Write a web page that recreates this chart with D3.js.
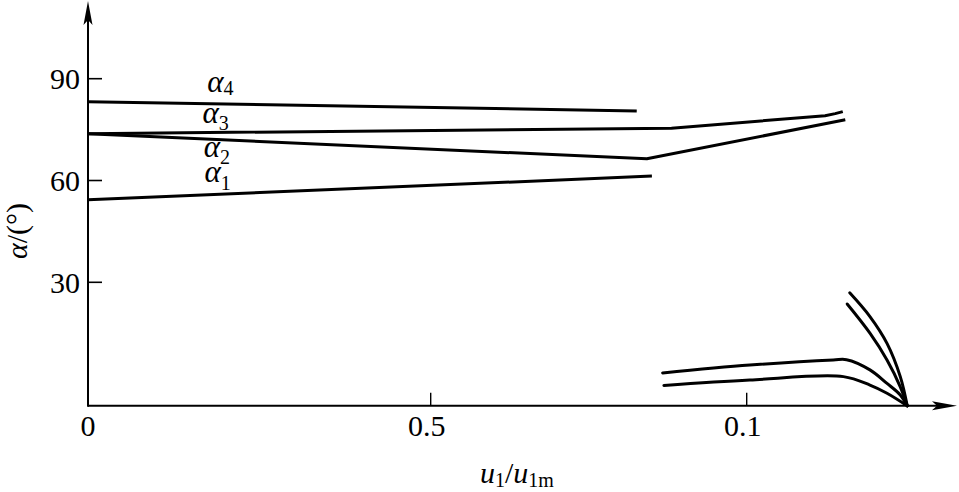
<!DOCTYPE html>
<html>
<head>
<meta charset="utf-8">
<script src="https://cdn.jsdelivr.net/npm/d3@7"></script>
<style>
  html, body { margin: 0; padding: 0; background: #fff; }
  svg { display: block; font-family: "Liberation Serif", "Times New Roman", serif; }
</style>
</head>
<body>
<svg id="chart" width="959" height="492"></svg>
<script>
// ---- data ----
const xTickValues = [0, 0.5, 1];
const xTickLabels = ["0", "0.5", "0.1"];
const yTickValues = [30, 60, 90];
const yTickLabels = ["30", "60", "90"];

const alpha4 = [[0, 83.2], [0.826, 80.5]];
const alpha3 = [[0, 73.8], [0.881, 75.4], [1.124, 79.1], [1.14, 79.7], [1.152, 80.3]];
const alpha2 = [[0, 73.8], [0.842, 66.4], [1.156, 77.9]];
const alpha1 = [[0, 54.3], [0.850, 61.3]];

const lowUpper = [[0.867, 3.3], [1.005, 5.6], [1.137, 7.1], [1.158, 7.2], [1.195, 4.2], [1.222, 0.2], [1.243, -3.2], [1.254, -6.4]];
const lowLower = [[0.869, -0.4], [1.005, 1.2], [1.153, 2.2], [1.195, -0.3], [1.222, -2.7], [1.254, -6.4]];
const steepOuter = [[1.163, 26.9], [1.195, 19.9], [1.222, 12.0], [1.243, 2.2], [1.254, -6.4]];
const steepInner = [[1.159, 23.6], [1.195, 15.0], [1.222, 7.1], [1.243, -0.8], [1.254, -6.4]];

const seriesNames = ["4", "3", "2", "1"];
const labelAnchors = [[0.174, 86.1], [0.167, 76.8], [0.169, 66.8], [0.170, 59.6]];
const labelSubShift = [3, 7, 7, 8];

// ---- scales ----
const svg = d3.select("#chart");
const x = d3.scaleLinear().domain([0, 0.5, 1]).range([88, 430.7, 746.7]);
const y = d3.scaleLinear().domain([30, 90]).range([282.3, 78.7]);
const xMin = 0, xMax = x.invert(957);
const yBase = y.invert(405.7), yTop = y.invert(1);

const ink = "#000";

// ---- axes ----
const gAx = svg.append("g");
gAx.append("line").attr("x1", x(xMin)).attr("x2", x(xMax) - 12)
  .attr("y1", y(yBase)).attr("y2", y(yBase))
  .attr("stroke", ink).attr("stroke-width", 2);
gAx.append("line").attr("x1", x(xMin)).attr("x2", x(xMin))
  .attr("y1", y(yBase) + 1).attr("y2", y(yTop) + 12)
  .attr("stroke", ink).attr("stroke-width", 2);

// arrowheads
const xa = x(xMax), ya = y(yBase);
gAx.append("path")
  .attr("d", `M${xa},${ya} L${xa - 25},${ya - 4.5} L${xa - 20},${ya} L${xa - 25},${ya + 4.5} Z`)
  .attr("fill", ink);
const xb = x(xMin), yb = y(yTop);
gAx.append("path")
  .attr("d", `M${xb},${yb} L${xb - 4.5},${yb + 24} L${xb},${yb + 19} L${xb + 4.5},${yb + 24} Z`)
  .attr("fill", ink);

// y ticks
yTickValues.forEach((v, i) => {
  gAx.append("line").attr("x1", x(0)).attr("x2", x(0) + 14)
    .attr("y1", y(v)).attr("y2", y(v)).attr("stroke", ink).attr("stroke-width", 1.6);
  gAx.append("text").attr("x", 80).attr("y", y(v) + 10.5)
    .attr("text-anchor", "end").attr("font-size", 30).attr("fill", ink)
    .text(yTickLabels[i]);
});

// x ticks
xTickValues.forEach((v, i) => {
  if (v !== 0) {
    gAx.append("line").attr("x1", x(v)).attr("x2", x(v))
      .attr("y1", y(yBase)).attr("y2", y(yBase) - 13)
      .attr("stroke", ink).attr("stroke-width", 1.4);
  }
  gAx.append("text").attr("x", x(v) + (v === 0 ? 0 : -4)).attr("y", 436)
    .attr("text-anchor", "middle").attr("font-size", 30).attr("fill", ink)
    .text(xTickLabels[i]);
});

// ---- curves ----
const lineLin = d3.line().x(d => x(d[0])).y(d => y(d[1]));
const lineSmooth = d3.line().x(d => x(d[0])).y(d => y(d[1])).curve(d3.curveCatmullRom.alpha(0.5));

[alpha4, alpha3, alpha2, alpha1].forEach(s => {
  svg.append("path").attr("d", lineLin(s)).attr("fill", "none")
    .attr("stroke", ink).attr("stroke-width", 3).attr("stroke-linejoin", "round");
});
[lowUpper, lowLower, steepOuter, steepInner].forEach(s => {
  svg.append("path").attr("d", lineSmooth(s)).attr("fill", "none")
    .attr("stroke", ink).attr("stroke-width", 3).attr("stroke-linecap", "round");
});

// ---- series labels ----
seriesNames.forEach((n, i) => {
  const t = svg.append("text").attr("x", x(labelAnchors[i][0])).attr("y", y(labelAnchors[i][1]))
    .attr("fill", ink);
  t.append("tspan").attr("font-size", 31).attr("font-style", "italic").text("α");
  t.append("tspan").attr("font-size", 20).attr("dy", labelSubShift[i]).text(n);
});

// ---- axis titles ----
const yl = svg.append("text").attr("transform", "translate(27,231) rotate(-90)")
  .attr("text-anchor", "middle").attr("font-size", 30).attr("fill", ink);
yl.append("tspan").attr("font-style", "italic").text("α");
yl.append("tspan").text("/(°)");

const xl = svg.append("text").attr("x", 480).attr("y", 483).attr("font-size", 30).attr("fill", ink);
xl.append("tspan").attr("font-style", "italic").text("u");
xl.append("tspan").attr("font-size", 20).attr("dy", 4).text("1");
xl.append("tspan").attr("dy", -4).text("/");
xl.append("tspan").attr("font-style", "italic").text("u");
xl.append("tspan").attr("font-size", 20).attr("dy", 4).text("1m");
</script>
</body>
</html>
